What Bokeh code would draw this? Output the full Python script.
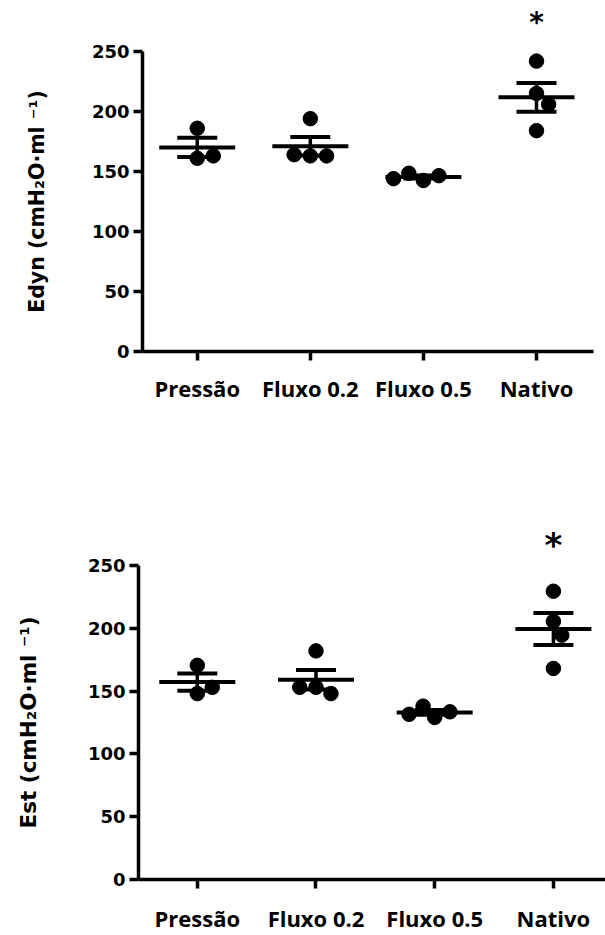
import math
from bokeh.plotting import figure
from bokeh.models import Range1d, FixedTicker, Label
from bokeh.layouts import column, row
from bokeh.embed import file_html
from bokeh.resources import INLINE

# ---------------- data ----------------
categories = ["Pressão", "Fluxo 0.2", "Fluxo 0.5", "Nativo"]

edyn_pressao = [186, 161, 163]
edyn_fluxo02 = [194, 163, 163, 164]
edyn_fluxo05 = [142.5, 146.5, 148.5, 144]
edyn_nativo = [242, 215, 206, 184]

est_pressao = [170.5, 148, 153]
est_fluxo02 = [182, 153, 148, 153]
est_fluxo05 = [129, 133.5, 138, 131.5]
est_nativo = [229.5, 205.5, 194.5, 168]

y_ticks = [0, 50, 100, 150, 200, 250]
significance = ["", "", "", "*"]

edyn_label = "Edyn (cmH\u2082O\u00b7ml \u207b\u00b9)"
est_label = "Est (cmH\u2082O\u00b7ml \u207b\u00b9)"


def mean_sem(v):
    n = len(v)
    m = sum(v) / n
    sd = math.sqrt(sum((x - m) ** 2 for x in v) / (n - 1))
    return m, sd / math.sqrt(n)


def swarm(vals, ky, diam):
    """Beeswarm offsets in pixels (continuous, closest to centre)."""
    placed, offs = [], []
    for v in vals:
        y = v * ky
        iv = []
        for px, py in placed:
            dy = abs(py - y)
            if dy < diam:
                h = math.sqrt(diam * diam - dy * dy)
                iv.append((px - h, px + h))
        cands = [0.0] + [a for a, b in iv] + [b for a, b in iv]
        valid = [c for c in cands if all(not (a + 1e-9 < c < b - 1e-9) for a, b in iv)]
        best = min(valid, key=lambda c: (round(abs(c), 6), -c))
        placed.append((best, y))
        offs.append(best)
    return offs


def label_fig(text, width, height, ymax, cx, font):
    # frame of this narrow figure is aligned with the neighbouring plot's frame
    f = figure(width=width, height=height, output_backend="svg",
               toolbar_location=None, title=None,
               x_range=Range1d(0, width), y_range=Range1d(0, ymax),
               x_axis_type=None, y_axis_type=None,
               min_border_left=0, min_border_right=0,
               min_border_top=0, min_border_bottom=0)
    f.outline_line_color = None
    f.xgrid.visible = False
    f.ygrid.visible = False
    f.add_layout(Label(x=cx, y=(y_ticks[0] + y_ticks[-1]) / 2, text=text, angle=math.pi / 2,
                       text_align="center", text_baseline="middle",
                       text_font="DejaVu Sans", text_font_style="bold",
                       text_font_size=f"{font}px", text_color="black"))
    return f


def panel(groups, width, height, bl, br, bt, bb, x0, x1, ymax,
          tick_font, xlab_font, xlab_standoff, star_font, star_off, dot):
    fw = width - bl - br
    fh = height - bt - bb
    kx = fw / (x1 - x0)
    ky = fh / ymax
    p = figure(width=width, height=height, output_backend="svg",
               toolbar_location=None, title=None,
               x_range=Range1d(x0, x1), y_range=Range1d(0, ymax),
               min_border_left=bl, min_border_right=br,
               min_border_top=bt, min_border_bottom=bb)
    p.outline_line_color = None
    p.xgrid.visible = False
    p.ygrid.visible = False
    p.background_fill_color = "white"
    p.border_fill_color = "white"

    xs, ys = [], []
    for i, vals in enumerate(groups):
        c = i + 1
        offs = swarm(vals, ky, dot * 1.12)
        for v, o in zip(vals, offs):
            xs.append(c + o / kx)
            ys.append(v)
    p.scatter(xs, ys, size=dot, color="black", line_color="black")

    mx0, mx1, my, cx0, cx1, cyt, cyb, sx, sy0, sy1 = ([] for _ in range(10))
    for i, vals in enumerate(groups):
        c = i + 1
        m, s = mean_sem(vals)
        mx0.append(c - 38 / kx); mx1.append(c + 38 / kx); my.append(m)
        cx0.append(c - 20 / kx); cx1.append(c + 20 / kx)
        cyt.append(m + s); cyb.append(m - s)
        sx.append(c); sy0.append(m - s); sy1.append(m + s)
    p.segment(mx0, my, mx1, my, line_width=4, color="black")
    p.segment(cx0, cyt, cx1, cyt, line_width=4, color="black")
    p.segment(cx0, cyb, cx1, cyb, line_width=4, color="black")
    p.segment(sx, sy0, sx, sy1, line_width=3.5, color="black")

    for i, vals in enumerate(groups):
        if significance[i]:
            p.add_layout(Label(x=i + 1, y=max(vals) + star_off / ky, text=significance[i],
                               text_align="center", text_baseline="alphabetic",
                               text_font="DejaVu Sans", text_font_style="bold",
                               text_font_size=f"{star_font}px", text_color="black"))

    xa = p.xaxis[0]
    xa.ticker = FixedTicker(ticks=[1, 2, 3, 4])
    xa.major_label_overrides = {i + 1: c for i, c in enumerate(categories)}
    xa.axis_line_width = 3.5
    xa.axis_line_color = "black"
    xa.major_tick_line_width = 3.5
    xa.major_tick_line_color = "black"
    xa.major_tick_in = 0
    xa.major_tick_out = 9
    xa.minor_tick_line_color = None
    xa.major_label_text_font = "Open Sans"
    xa.major_label_text_font_style = "bold"
    xa.major_label_text_font_size = f"{xlab_font}px"
    xa.major_label_text_color = "black"
    xa.major_label_standoff = xlab_standoff

    ya = p.yaxis[0]
    ya.bounds = (y_ticks[0], y_ticks[-1])
    ya.ticker = FixedTicker(ticks=y_ticks)
    ya.axis_line_width = 3.5
    ya.axis_line_color = "black"
    ya.major_tick_line_width = 3.5
    ya.major_tick_line_color = "black"
    ya.major_tick_in = 0
    ya.major_tick_out = 9
    ya.minor_tick_line_color = None
    ya.major_label_text_font = "DejaVu Sans"
    ya.major_label_text_font_style = "bold"
    ya.major_label_text_font_size = f"{tick_font}px"
    ya.major_label_text_color = "black"
    ya.major_label_standoff = 4
    return p


LW = 60
YMAX = 285.8
p1 = panel([edyn_pressao, edyn_fluxo02, edyn_fluxo05, edyn_nativo],
           width=605 - LW, height=411, bl=142 - LW, br=12, bt=8, bb=60,
           x0=0.516, x1=4.504, ymax=YMAX,
           tick_font=18, xlab_font=22, xlab_standoff=12, star_font=28, star_off=39, dot=14.5)
l1 = label_fig(edyn_label, LW, 411, YMAX, 36, 20.5)

p2 = panel([est_pressao, est_fluxo02, est_fluxo05, est_nativo],
           width=605 - LW, height=524, bl=138 - LW, br=0, bt=109, bb=54,
           x0=0.5046, x1=4.439, ymax=YMAX,
           tick_font=18, xlab_font=22, xlab_standoff=14, star_font=34, star_off=46, dot=14.5)
l2 = label_fig(est_label, LW, 524, YMAX, 28, 21.5)

layout = column(row(l1, p1, spacing=0), row(l2, p2, spacing=0), spacing=0)
open("out.html", "w").write(file_html(layout, INLINE))
